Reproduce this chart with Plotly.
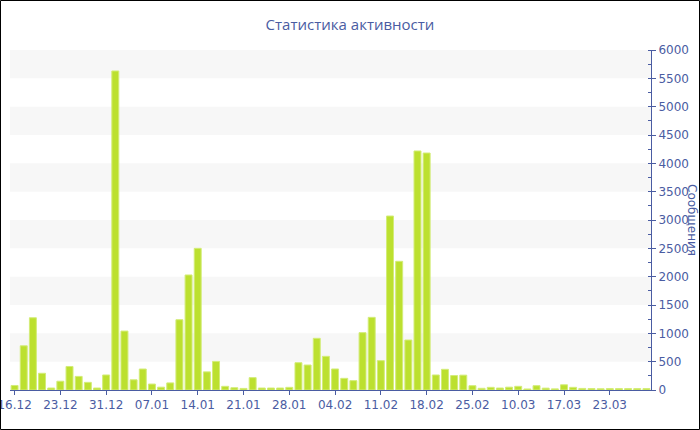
import plotly.graph_objects as go

dates = [
    "16.12", "17.12", "18.12", "19.12", "21.12",
    "23.12", "24.12", "25.12", "26.12", "28.12",
    "31.12", "01.01", "02.01", "03.01", "05.01",
    "07.01", "08.01", "10.01", "11.01", "12.01",
    "14.01", "15.01", "16.01", "17.01", "19.01",
    "21.01", "22.01", "24.01", "25.01", "26.01",
    "28.01", "29.01", "30.01", "31.01", "02.02",
    "04.02", "05.02", "06.02", "08.02", "09.02",
    "11.02", "12.02", "13.02", "14.02", "16.02",
    "18.02", "19.02", "20.02", "22.02", "23.02",
    "25.02", "27.02", "01.03", "04.03", "07.03",
    "10.03", "11.03", "13.03", "14.03", "16.03",
    "17.03", "18.03", "19.03", "20.03", "22.03",
    "23.03", "24.03", "25.03", "26.03", "27.03",
]

messages = [
    80, 780, 1275, 295, 35,
    155, 415, 240, 135, 35,
    265, 5630, 1040, 180, 370,
    105, 50, 125, 1240, 2030,
    2500, 320, 505, 65, 40,
    28, 218, 35, 35, 35,
    47, 482, 441, 912, 594,
    371, 206, 165, 1012, 1282,
    518, 3070, 2271, 882, 4218,
    4182, 265, 365, 255, 262,
    76, 30, 47, 35, 50,
    65, 18, 76, 33, 20,
    92, 47, 28, 26, 22,
    25, 25, 25, 25, 25,
]

y_ticks = list(range(0, 6001, 500))
x_tick_labels = dates[::5]

title_text = "Статистика активности"
y_title_text = "Сообщения"

BLUE = "#4a5ca2"
W, H = 700, 430
ML, MR, MT, MB = 10, 49, 50, 40
PW, PH = W - ML - MR, H - MT - MB

fig = go.Figure()
fig.add_trace(go.Bar(
    x=dates, y=messages,
    marker=dict(color="#bce02f", line=dict(color="#d3ec78", width=1)),
    hoverinfo="x+y",
))

shapes = []
# alternating horizontal bands between y ticks
for i in range(1, len(y_ticks) - 1, 2):
    shapes.append(dict(type="rect", xref="paper", yref="y", x0=0, x1=1,
                       y0=y_ticks[i], y1=y_ticks[i + 1],
                       fillcolor="#f7f7f7", line=dict(width=0), layer="below"))
# outer border
shapes.append(dict(type="rect", xref="paper", yref="paper",
                   x0=(0.5 - ML) / PW, x1=(W - 0.5 - ML) / PW,
                   y0=(MT + PH - (H - 0.5)) / PH, y1=(MT + PH - 0.5) / PH,
                   line=dict(color="black", width=1), fillcolor="rgba(0,0,0,0)",
                   layer="above"))

fig.update_layout(
    width=W, height=H,
    margin=dict(l=ML, r=MR, t=MT, b=MB, autoexpand=False),
    paper_bgcolor="white", plot_bgcolor="white",
    showlegend=False,
    bargap=0.24,
    title=dict(text=title_text, x=0.5, xref="container", xanchor="center",
               y=1 - 25 / H, yref="container", yanchor="middle",
               font=dict(family="Open Sans", size=15, color=BLUE)),
    font=dict(family="DejaVu Sans", size=12, color=BLUE),
    shapes=shapes,
    annotations=[dict(text=y_title_text, textangle=90, showarrow=False,
                      xref="paper", yref="paper",
                      x=(692 - ML) / PW, y=0.5, xanchor="center", yanchor="middle",
                      font=dict(family="DejaVu Sans", size=12, color=BLUE))],
    xaxis=dict(type="category", tickmode="array", tickvals=x_tick_labels,
               ticktext=x_tick_labels, ticks="outside", ticklen=4, tickcolor=BLUE,
               showline=True, linecolor=BLUE, linewidth=1, showgrid=False,
               automargin=False,
               tickfont=dict(family="DejaVu Sans", size=12, color=BLUE),
               range=[-0.5, len(dates) - 0.5]),
    yaxis=dict(side="right", range=[0, 6000], tickmode="array", tickvals=y_ticks,
               ticks="outside", ticklen=4, tickcolor=BLUE, showline=True,
               linecolor=BLUE, linewidth=1, showgrid=False, zeroline=False,
               automargin=False,
               minor=dict(ticks="inside", ticklen=3, tickcolor=BLUE, dtick=250,
                          showgrid=False),
               tickfont=dict(family="DejaVu Sans", size=12, color=BLUE)),
)

fig.write_html("out.html", config={"displayModeBar": False},
               post_script="document.body.style.margin='0';document.body.style.overflow='hidden';")
